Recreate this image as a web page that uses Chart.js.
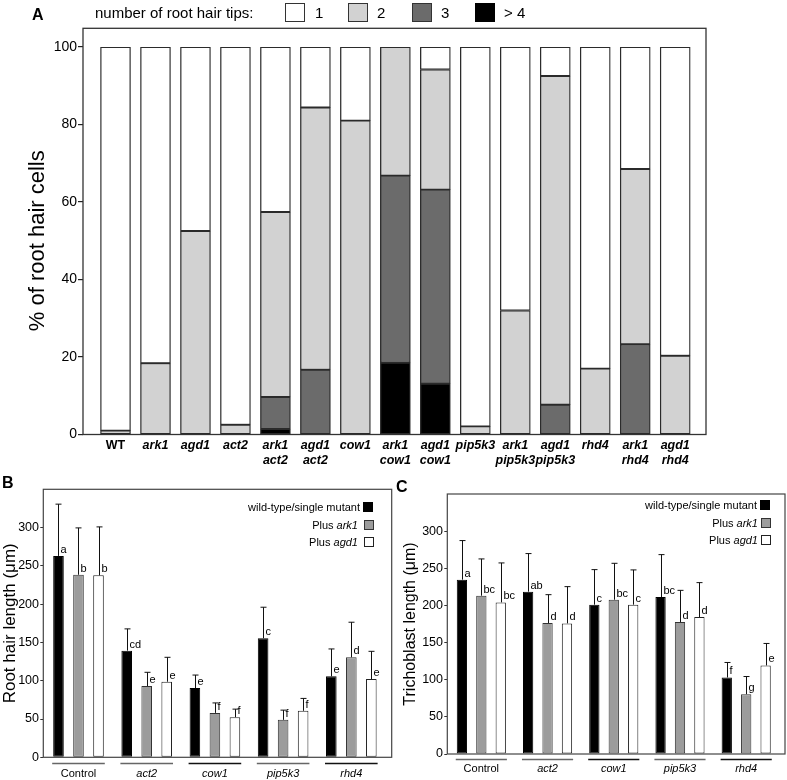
<!DOCTYPE html>
<html>
<head>
<meta charset="utf-8">
<title>Root hair tips, root hair length and trichoblast length</title>
<script src="https://cdn.jsdelivr.net/npm/chart.js@4.4.1/dist/chart.umd.min.js"></script>
<style>
  body { margin: 0; background: #fff; }
  #page { position: relative; width: 787px; height: 780px; overflow: hidden;
          font-family: "Liberation Sans", Arial, sans-serif; color: #000; }
  #page canvas { position: absolute; }
  .txt { position: absolute; white-space: nowrap; }
  .panel { position: absolute; font-weight: bold; font-size: 16px; line-height: 16px; }
  .box { position: absolute; box-sizing: border-box; }
  .leg { position: absolute; white-space: nowrap; font-size: 11px; line-height: 12px; text-align: right; }
</style>
</head>
<body>
<div id="page">
  <canvas id="chartA" width="787" height="480" style="left:0;top:0"></canvas>
  <canvas id="chartB" width="395" height="300" style="left:0;top:480px"></canvas>
  <canvas id="chartC" width="392" height="300" style="left:395px;top:480px"></canvas>

  <div class="panel" style="left:32px;top:7px">A</div>
  <div class="panel" style="left:2px;top:475px">B</div>
  <div class="panel" style="left:396px;top:479px">C</div>

  <!-- legend of panel A -->
  <div class="txt" style="left:95px;top:4px;font-size:15px;line-height:18px">number of root hair tips:</div>
  <div class="box" style="left:285px;top:3px;width:20px;height:19px;background:#fff;border:1.5px solid #333"></div>
  <div class="txt" style="left:315px;top:4px;font-size:15px;line-height:18px">1</div>
  <div class="box" style="left:348px;top:3px;width:20px;height:19px;background:#d2d2d2;border:1.5px solid #333"></div>
  <div class="txt" style="left:377px;top:4px;font-size:15px;line-height:18px">2</div>
  <div class="box" style="left:412px;top:3px;width:20px;height:19px;background:#6b6b6b;border:1.5px solid #333"></div>
  <div class="txt" style="left:441px;top:4px;font-size:15px;line-height:18px">3</div>
  <div class="box" style="left:475px;top:3px;width:20px;height:19px;background:#000;border:1.5px solid #000"></div>
  <div class="txt" style="left:504px;top:4px;font-size:15px;line-height:18px">&gt; 4</div>

  <!-- legend of panel B -->
  <div class="leg" style="right:427px;top:501px">wild-type/single mutant</div>
  <div class="box" style="left:363px;top:502px;width:10px;height:10px;background:#000;border:1px solid #000"></div>
  <div class="leg" style="right:429px;top:519px">Plus <i>ark1</i></div>
  <div class="box" style="left:364px;top:520px;width:10px;height:10px;background:#9c9c9c;border:1px solid #333"></div>
  <div class="leg" style="right:429px;top:536px">Plus <i>agd1</i></div>
  <div class="box" style="left:364px;top:537px;width:10px;height:10px;background:#fff;border:1px solid #222"></div>

  <!-- legend of panel C -->
  <div class="leg" style="right:30px;top:499px">wild-type/single mutant</div>
  <div class="box" style="left:760px;top:500px;width:10px;height:10px;background:#000;border:1px solid #000"></div>
  <div class="leg" style="right:29px;top:517px">Plus <i>ark1</i></div>
  <div class="box" style="left:761px;top:518px;width:10px;height:10px;background:#9c9c9c;border:1px solid #333"></div>
  <div class="leg" style="right:29px;top:534px">Plus <i>agd1</i></div>
  <div class="box" style="left:761px;top:535px;width:10px;height:10px;background:#fff;border:1px solid #222"></div>
</div>

<script>
// ---- panel A: % of root hair cells by number of tips ----
const genotypes = ["WT", "ark1", "agd1", "act2", ["ark1", "act2"], ["agd1", "act2"], "cow1",
    ["ark1", "cow1"], ["agd1", "cow1"], "pip5k3", ["ark1", "pip5k3"], ["agd1", "pip5k3"],
    "rhd4", ["ark1", "rhd4"], ["agd1", "rhd4"]];
const tips1 = [99, 81.6, 47.5, 97.5, 42.6, 15.6, 19, 0, 5.8, 97.9, 68, 7.5, 83, 31.5, 79.7];
const tips2 = [1, 18.4, 52.5, 2.5, 47.7, 67.7, 81, 33.2, 31.0, 2.1, 32, 84.8, 17, 45.2, 20.3];
const tips3 = [0, 0, 0, 0, 8.3, 16.7, 0, 48.3, 50.1, 0, 0, 7.7, 0, 23.3, 0];
const tips4 = [0, 0, 0, 0, 1.4, 0, 0, 18.5, 13.1, 0, 0, 0, 0, 0, 0];
const pctTicks = [0, 20, 40, 60, 80, 100];

// ---- panels B and C ----
const groups = ["Control", "act2", "cow1", "pip5k3", "rhd4"];

const hairWT = [263, 139.3, 90.4, 155.5, 105.7];
const hairWTsd = [67.6, 28.4, 17, 40.5, 35.8];
const hairWTsig = ["a", "cd", "e", "c", "e"];
const hairArk1 = [238.4, 93, 58, 48.9, 130.6];
const hairArk1sd = [61.2, 18, 13, 12.7, 45.8];
const hairArk1sig = ["b", "e", "f", "f", "d"];
const hairAgd1 = [237.6, 98.7, 52.4, 60.7, 102.2];
const hairAgd1sd = [63.3, 31.9, 10.5, 16.2, 36.2];
const hairAgd1sig = ["b", "e", "f", "f", "e"];

const trichWT = [234.7, 218.5, 201, 211.3, 103];
const trichWTsd = [52.6, 51.3, 47.2, 57.1, 20.2];
const trichWTsig = ["a", "ab", "c", "bc", "f"];
const trichArk1 = [213.1, 176.3, 207.7, 177.6, 80.5];
const trichArk1sd = [49.5, 38.2, 49, 42.7, 23.8];
const trichArk1sig = ["bc", "d", "bc", "d", "g"];
const trichAgd1 = [204.1, 175.8, 201, 184.4, 119.2];
const trichAgd1sd = [53.1, 49.5, 46.8, 46.3, 29.6];
const trichAgd1sig = ["bc", "d", "c", "d", "e"];
const lengthTicks = [0, 50, 100, 150, 200, 250, 300];

const FAMILY = '"Liberation Sans", Arial, sans-serif';
Chart.defaults.font.family = FAMILY;
Chart.defaults.color = '#000';

// box around the plot area (panel A's box rises above the 100 line)
const framePlugin = {
    id: 'frame',
    afterDraw(chart, args, opts) {
        const {ctx, chartArea: a} = chart;
        const extra = opts.extraTop || 0;
        ctx.save();
        ctx.strokeStyle = opts.color || '#333';
        ctx.lineWidth = opts.width || 1.2;
        ctx.strokeRect(a.left, a.top - extra, a.right - a.left, a.bottom - a.top + extra);
        ctx.restore();
    }
};

// upward error bars and significance letters
const errorBarPlugin = {
    id: 'errorBars',
    afterDatasetsDraw(chart) {
        const {ctx} = chart;
        const yScale = chart.scales.y;
        ctx.save();
        chart.data.datasets.forEach((ds, di) => {
            chart.getDatasetMeta(di).data.forEach((bar, i) => {
                const x = Math.round(bar.x) + 0.5;
                const top = yScale.getPixelForValue(ds.data[i].y + ds.sd[i]);
                ctx.strokeStyle = '#111';
                ctx.lineWidth = 1;
                ctx.beginPath();
                ctx.moveTo(x, bar.y);
                ctx.lineTo(x, top);
                ctx.moveTo(x - 3, top);
                ctx.lineTo(x + 3, top);
                ctx.stroke();
                ctx.fillStyle = '#000';
                ctx.font = '11px ' + FAMILY;
                ctx.textAlign = 'left';
                ctx.textBaseline = 'alphabetic';
                ctx.fillText(ds.sig[i], x + 2, bar.y - 3);
            });
        });
        ctx.restore();
    }
};

// short lines under each group of three bars
const groupLinePlugin = {
    id: 'groupLines',
    afterDraw(chart, args, opts) {
        const {ctx} = chart;
        const first = chart.getDatasetMeta(0).data;
        const last = chart.getDatasetMeta(chart.data.datasets.length - 1).data;
        const y = Math.round(chart.chartArea.bottom + opts.offset) + 0.5;
        ctx.save();
        ctx.lineWidth = 1.3;
        first.forEach((bar, i) => {
            ctx.strokeStyle = opts.colors[i];
            ctx.beginPath();
            ctx.moveTo(bar.x - bar.width / 2 - 1, y);
            ctx.lineTo(last[i].x + last[i].width / 2 + 1, y);
            ctx.stroke();
        });
        ctx.restore();
    }
};

function points(values) {
    return values.map((v, i) => ({x: i, y: v || null}));
}

function tipSegment(label, values, color) {
    return {
        label: label,
        data: points(values),
        backgroundColor: color,
        borderColor: '#2b2b2b',
        borderWidth: 1.3,
        borderSkipped: false,
        barThickness: 30
    };
}

new Chart(document.getElementById('chartA'), {
    type: 'bar',
    data: {
        datasets: [
            tipSegment('> 4', tips4, '#000000'),
            tipSegment('3', tips3, '#6b6b6b'),
            tipSegment('2', tips2, '#d2d2d2'),
            tipSegment('1', tips1, '#ffffff')
        ]
    },
    options: {
        responsive: false,
        animation: false,
        layout: {padding: {top: 47, right: 81, bottom: 0, left: 0}},
        plugins: {
            legend: {display: false},
            tooltip: {enabled: false},
            frame: {extraTop: 18.7, width: 1.3, color: '#333'}
        },
        scales: {
            x: {
                type: 'linear',
                stacked: true,
                offset: false,
                min: -0.813,
                max: 14.77,
                grid: {display: false, drawTicks: false, tickLength: 0},
                border: {display: false},
                afterBuildTicks: s => { s.ticks = genotypes.map((g, i) => ({value: i})); },
                afterFit: s => { s.height = 45.5; },
                ticks: {
                    autoSkip: false,
                    maxRotation: 0,
                    padding: 4,
                    color: '#000',
                    font: c => ({family: FAMILY, size: 12.5, weight: 'bold',
                                 style: c.index === 0 ? 'normal' : 'italic', lineHeight: 1.15}),
                    callback: v => genotypes[v]
                }
            },
            y: {
                stacked: true,
                min: 0,
                max: 100,
                afterBuildTicks: s => { s.ticks = pctTicks.map(v => ({value: v})); },
                afterFit: s => { s.width = 83; },
                grid: {drawOnChartArea: false, tickLength: 5, color: '#222', lineWidth: 1.2},
                border: {display: false},
                ticks: {padding: 1, color: '#000', font: {size: 14}},
                title: {display: true, text: '% of root hair cells', color: '#000',
                        font: {size: 22}, padding: {top: 25, bottom: 0}}
            }
        }
    },
    plugins: [framePlugin]
});

function lengthSet(label, values, sd, sig, fill, edge) {
    return {
        label: label,
        data: points(values),
        sd: sd,
        sig: sig,
        backgroundColor: fill,
        borderColor: edge,
        borderWidth: 1,
        borderSkipped: false,
        categoryPercentage: 0.88,
        barPercentage: 0.53
    };
}

function lengthChart(canvasId, datasets, geo) {
    return new Chart(document.getElementById(canvasId), {
        type: 'bar',
        data: {datasets: datasets},
        options: {
            responsive: false,
            animation: false,
            layout: {padding: {top: geo.top, right: geo.right, bottom: 0, left: 0}},
            plugins: {
                legend: {display: false},
                tooltip: {enabled: false},
                frame: {width: 1.2, color: '#444'},
                groupLines: {offset: geo.lineOffset, colors: ['#666', '#666', '#111', '#666', '#111']}
            },
            scales: {
                x: {
                    type: 'linear',
                    offset: false,
                    min: geo.xmin,
                    max: geo.xmax,
                    grid: {display: false, drawTicks: false, tickLength: 0},
                    border: {display: false},
                    afterBuildTicks: s => { s.ticks = groups.map((g, i) => ({value: i})); },
                    afterFit: s => { s.height = geo.xHeight; },
                    ticks: {
                        autoSkip: false,
                        maxRotation: 0,
                        padding: geo.labelPad,
                        color: '#000',
                        font: c => ({family: FAMILY, size: 11, style: c.index === 0 ? 'normal' : 'italic'}),
                        callback: v => groups[v]
                    }
                },
                y: {
                    min: 0,
                    max: 350,
                    afterBuildTicks: s => { s.ticks = lengthTicks.map(v => ({value: v})); },
                    afterFit: s => { s.width = geo.yWidth; },
                    grid: {drawOnChartArea: false, tickLength: 3, color: '#333'},
                    border: {display: false},
                    ticks: {padding: 1.3, color: '#000', font: {size: 12.5}},
                    title: {display: true, text: geo.title, color: '#000',
                            font: {size: geo.titleSize}, padding: {top: geo.titlePad, bottom: 0}}
                }
            }
        },
        plugins: [framePlugin, errorBarPlugin, groupLinePlugin]
    });
}

lengthChart('chartB', [
    lengthSet('wild-type/single mutant', hairWT, hairWTsd, hairWTsig, '#000000', '#000000'),
    lengthSet('Plus ark1', hairArk1, hairArk1sd, hairArk1sig, '#9c9c9c', '#333333'),
    lengthSet('Plus agd1', hairAgd1, hairAgd1sd, hairAgd1sig, '#ffffff', '#222222')
], {top: 9.3, right: 3.3, xmin: -0.516, xmax: 4.592, xHeight: 22.7, yWidth: 43.3,
    labelPad: 10, lineOffset: 5.5, title: 'Root hair length (\u03bcm)', titleSize: 17, titlePad: 0});

lengthChart('chartC', [
    lengthSet('wild-type/single mutant', trichWT, trichWTsd, trichWTsig, '#000000', '#000000'),
    lengthSet('Plus ark1', trichArk1, trichArk1sd, trichArk1sig, '#9c9c9c', '#333333'),
    lengthSet('Plus agd1', trichAgd1, trichAgd1sd, trichAgd1sig, '#ffffff', '#222222')
], {top: 14, right: 2, xmin: -0.514, xmax: 4.586, xHeight: 26, yWidth: 52.3,
    labelPad: 8.4, lineOffset: 5, title: 'Trichoblast length (\u03bcm)', titleSize: 16, titlePad: 6.4});
</script>
</body>
</html>
